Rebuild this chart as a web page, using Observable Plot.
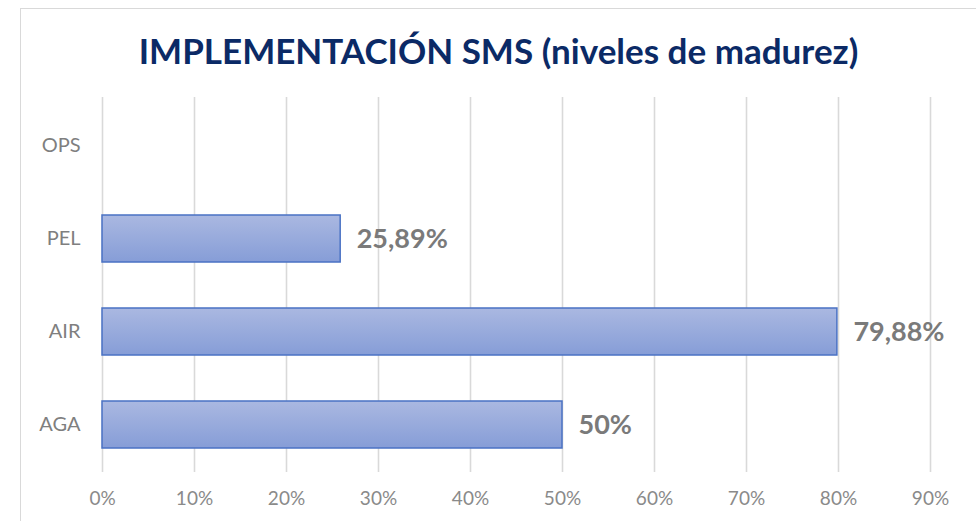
<!DOCTYPE html>
<html>
<head>
<meta charset="utf-8">
<script src="https://cdn.jsdelivr.net/npm/d3@7"></script>
<script src="https://cdn.jsdelivr.net/npm/@observablehq/plot@0.6"></script>
<style>
  html, body { margin: 0; padding: 0; background: #fff; width: 976px; height: 521px; overflow: hidden; }
  #wrap { position: relative; width: 976px; height: 521px; }
  #frame { position: absolute; left: 20px; top: 8px; width: 1000px; height: 600px; border: 1.5px solid #d9d9d9; box-sizing: border-box; }
  #title { position: absolute; left: 0; width: 997px; top: 29px; text-align: center; font-family: Lato, "Open Sans", sans-serif; font-weight: 700; font-size: 35px; color: #0b2a66; white-space: nowrap; }
  #chart { position: absolute; left: 0; top: 0; }
</style>
</head>
<body>
<div id="wrap">
  <div id="frame"></div>
  <div id="title">IMPLEMENTACIÓN SMS (niveles de madurez)</div>
  <div id="chart"></div>
</div>
<script>
const categories = ["OPS", "PEL", "AIR", "AGA"];
const values = [null, 0.2589, 0.7988, 0.50];
const valueLabels = ["", "25,89%", "79,88%", "50%"];
const xTicks = [0, 0.1, 0.2, 0.3, 0.4, 0.5, 0.6, 0.7, 0.8, 0.9];

const data = categories.map((c, i) => ({cat: c, value: values[i], label: valueLabels[i]}));
const barData = data.filter(d => d.value != null);

const plot = Plot.plot({
  width: 976,
  height: 521,
  marginLeft: 102,
  marginRight: 46,
  marginTop: 97,
  marginBottom: 49,
  style: {fontFamily: "Lato, 'Open Sans', sans-serif", background: "transparent", overflow: "visible"},
  x: {domain: [0, 0.9], ticks: xTicks, tickFormat: d => Math.round(d * 100) + "%", label: null},
  y: {domain: categories, paddingInner: 0.5, paddingOuter: 0.25, label: null},
  marks: [
    Plot.ruleX(xTicks, {stroke: "#d9d9d9", strokeWidth: 1.6}),
    Plot.barX(barData, {y: "cat", x: "value", fill: "url(#barGrad)", stroke: "#4a72c4", strokeWidth: 1.5}),
    Plot.text(barData, {y: "cat", x: "value", text: "label", textAnchor: "start", dx: 16, fontSize: 27, fontWeight: "bold", fill: "#7a7a7a"}),
    Plot.axisX({ticks: xTicks, tickFormat: d => Math.round(d * 100) + "%", tickSize: 0, tickPadding: 19, fontSize: 19, color: "#8a8a8a", label: null}),
    Plot.axisY({tickSize: 0, tickPadding: 22, fontSize: 20, color: "#7f7f7f", label: null})
  ]
});

const svg = d3.select(plot);
const defs = svg.insert("defs", ":first-child");
const grad = defs.append("linearGradient").attr("id", "barGrad").attr("x1", 0).attr("y1", 0).attr("x2", 0).attr("y2", 1);
grad.append("stop").attr("offset", "0%").attr("stop-color", "#aab8e1");
grad.append("stop").attr("offset", "100%").attr("stop-color", "#869dd7");

document.getElementById("chart").appendChild(plot);
</script>
</body>
</html>
